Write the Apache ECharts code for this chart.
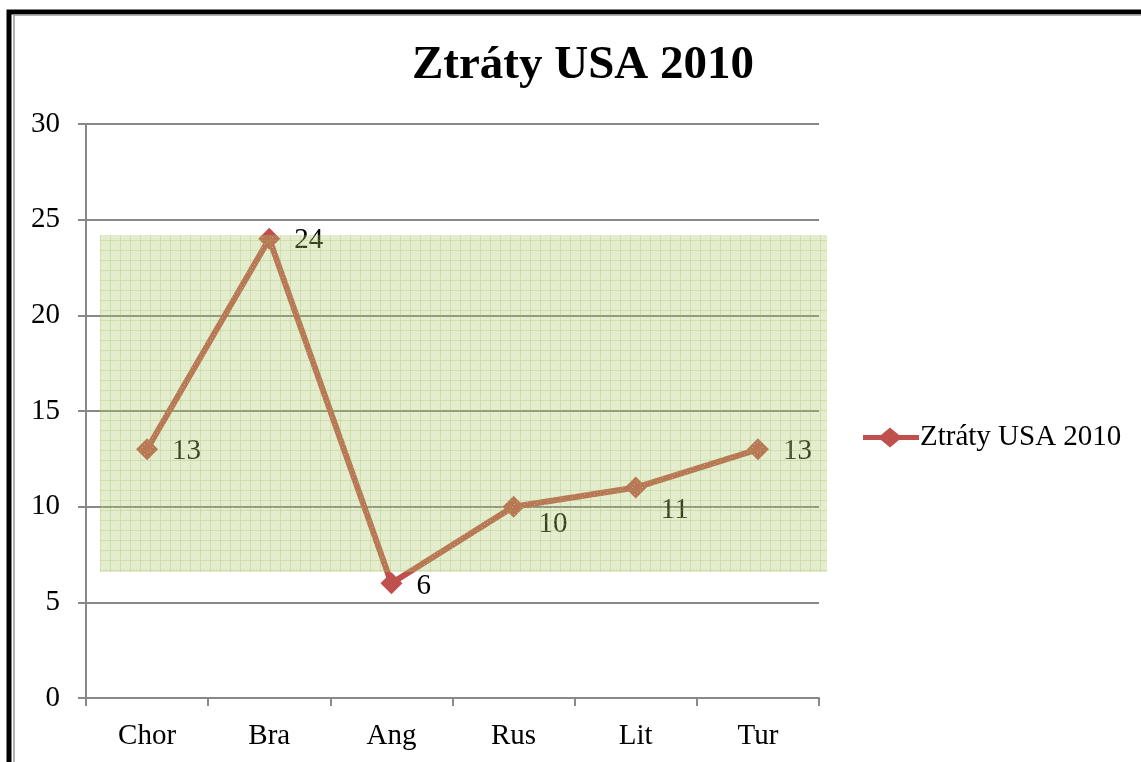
<!DOCTYPE html>
<html>
<head>
<meta charset="utf-8">
<script src="https://cdn.jsdelivr.net/npm/echarts@6/dist/echarts.min.js"></script>
<style>
  html, body { margin: 0; padding: 0; background: #fff; }
  #chart { width: 1141px; height: 762px; }
</style>
</head>
<body>
<div id="chart"></div>
<script>
const categories = ['Chor', 'Bra', 'Ang', 'Rus', 'Lit', 'Tur'];
const losses = [13, 24, 6, 10, 11, 13];
const seriesName = 'Ztráty USA 2010';

// label placement per point (right of the marker, last ones a bit lower)
const labelOffsets = [[0, 2], [0, 2], [0, 3], [0, 18], [0, 23], [0, 2]];

// small tile for the green hatched overlay
function makeTile() {
  const c = document.createElement('canvas');
  c.width = 10; c.height = 10;
  const ctx = c.getContext('2d');
  ctx.fillStyle = 'rgba(170,200,105,0.33)';
  ctx.fillRect(0, 0, 10, 10);
  ctx.fillStyle = 'rgba(150,185,80,0.25)';
  ctx.fillRect(0, 0, 10, 1);
  ctx.fillRect(0, 0, 1, 10);
  ctx.fillStyle = 'rgba(255,255,255,0.35)';
  ctx.fillRect(4, 4, 1, 1);
  ctx.fillRect(7, 2, 1, 1);
  ctx.fillRect(2, 7, 1, 1);
  return c;
}

const chart = echarts.init(document.getElementById('chart'));
const font = '"Liberation Serif", "Times New Roman", serif';

// line with a diamond in the middle, like the office legend key
const legendIcon = 'path://M0,7.5 L18,7.5 L27,0 L36,7.5 L56,7.5 L56,12.5 L36,12.5 L27,20 L18,12.5 L0,12.5 Z';

chart.setOption({
  animation: false,
  title: {
    text: seriesName,
    left: 578,
    top: 37,
    textAlign: 'center',
    textStyle: { fontFamily: font, fontSize: 47, fontWeight: 'bold', color: '#000' }
  },
  legend: {
    left: 858,
    top: 418,
    itemWidth: 56,
    itemHeight: 20,
    itemGap: 4,
    textStyle: { fontFamily: font, fontSize: 29, color: '#000', padding: [0, 0, 0, -4] },
    data: [{ name: seriesName, icon: legendIcon }]
  },
  grid: { left: 86, right: 322, top: 124, bottom: 64 },
  xAxis: {
    type: 'category',
    data: categories,
    boundaryGap: true,
    axisLine: { lineStyle: { color: '#888', width: 2 } },
    axisTick: { show: true, length: 8, lineStyle: { color: '#888', width: 2 } },
    axisLabel: { fontFamily: font, fontSize: 29, color: '#000', margin: 24 }
  },
  yAxis: {
    type: 'value',
    min: 0,
    max: 30,
    interval: 5,
    axisLine: { show: true, lineStyle: { color: '#888', width: 2 } },
    axisTick: { show: true, length: 8, lineStyle: { color: '#888', width: 2 } },
    splitLine: { lineStyle: { color: '#888', width: 2 } },
    axisLabel: { fontFamily: font, fontSize: 29, color: '#000', margin: 26 }
  },
  series: [{
    name: seriesName,
    type: 'line',
    data: losses.map((v, i) => ({
      value: v,
      label: { offset: labelOffsets[i] }
    })),
    symbol: 'diamond',
    symbolSize: 22,
    lineStyle: { color: '#c0504d', width: 6 },
    itemStyle: { color: '#c0504d' },
    label: {
      show: true,
      position: 'right',
      distance: 14,
      fontFamily: font,
      fontSize: 29,
      color: '#000'
    }
  }],
  graphic: [
    {
      type: 'rect',
      z: 100,
      silent: true,
      shape: { x: 100, y: 235, width: 727, height: 337 },
      style: { fill: { image: makeTile(), repeat: 'repeat' } }
    },
    {
      type: 'rect',
      z: 101,
      silent: true,
      shape: { x: 9, y: 12, width: 1300, height: 1000 },
      style: { fill: 'none', stroke: '#000', lineWidth: 5 }
    },
    {
      type: 'rect',
      z: 101,
      silent: true,
      shape: { x: 14, y: 15, width: 1300, height: 1000 },
      style: { fill: 'none', stroke: '#999', lineWidth: 1.5 }
    }
  ]
});
</script>
</body>
</html>
